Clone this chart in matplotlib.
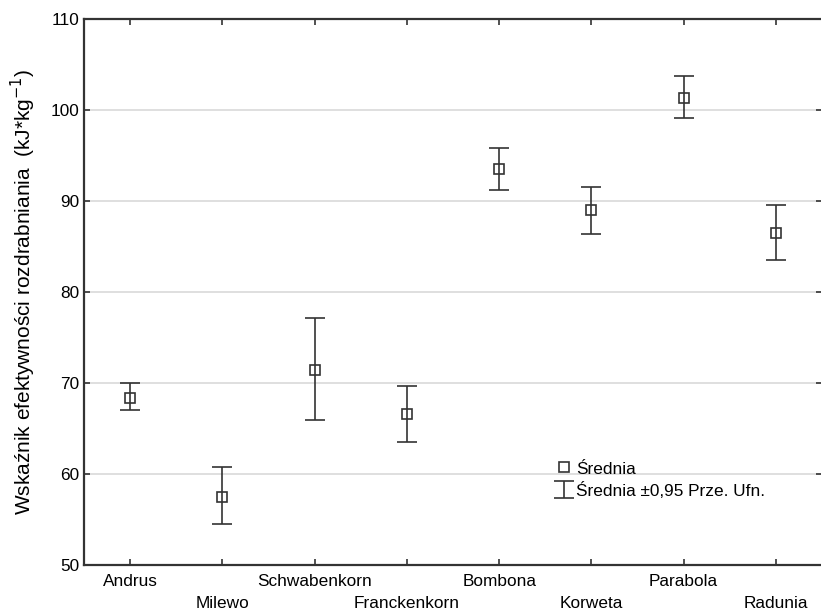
import matplotlib
matplotlib.use("Agg")
from matplotlib import pyplot as plt
import numpy as np

plt.rcParams["font.family"] = ["Liberation Sans", "DejaVu Sans"]

varieties = ["Andrus", "Milewo", "Schwabenkorn", "Franckenkorn",
             "Bombona", "Korweta", "Parabola", "Radunia"]
mean = [68.4, 57.5, 71.4, 66.6, 93.5, 89.0, 101.3, 86.5]
upper = [70.0, 60.8, 77.1, 69.7, 95.8, 91.5, 103.7, 89.6]
lower = [67.0, 54.5, 65.9, 63.5, 91.2, 86.4, 99.1, 83.5]

mean = np.array(mean)
yerr = [mean - np.array(lower), np.array(upper) - mean]
x = np.arange(len(varieties))

fig = plt.figure(figsize=(8.21, 6.13), dpi=100)
ax = fig.add_axes([84 / 821, 0.078, 738 / 821, 0.891])

col = "#333333"
ax.plot(x, mean, "s", mfc="white", mec=col, mew=1.2, ms=7, linestyle="none",
        label="Średnia")
ax.errorbar(x, mean, yerr=yerr, fmt="none", ecolor=col, elinewidth=1.2,
            capsize=7, capthick=1.2, label="Średnia ±0,95 Prze. Ufn.")

ax.set_xlim(-0.5, len(varieties) - 0.5)
ax.set_ylim(50, 110)
ax.set_yticks(np.arange(50, 111, 10))
ax.yaxis.grid(True, color="#d9d9d9", lw=1.2)
ax.set_axisbelow(True)

ax.set_xticks(x)
ax.set_xticklabels(varieties, fontsize=12.4)
ax.tick_params(axis="y", labelsize=12.4)
ax.tick_params(direction="in", top=True, right=True, length=4, color=col, width=1.2)
# staggered labels: every second one sits lower
for i, t in enumerate(ax.xaxis.get_major_ticks()):
    t.set_pad(6 if i % 2 == 0 else 22.5)
for s in ax.spines.values():
    s.set_color(col)
    s.set_linewidth(1.6)

ax.set_ylabel("Wskaźnik efektywności rozdrabniania  (kJ*kg$^{-1}$)", fontsize=15)
ax.yaxis.set_label_coords(-0.062, 0.5)

ax.legend(loc="lower left", bbox_to_anchor=(0.63, 0.106),
          frameon=False, fontsize=12.4, handlelength=0.8, handletextpad=0.3,
          labelspacing=0.3, borderpad=0)

fig.savefig("out.png", dpi=100)
